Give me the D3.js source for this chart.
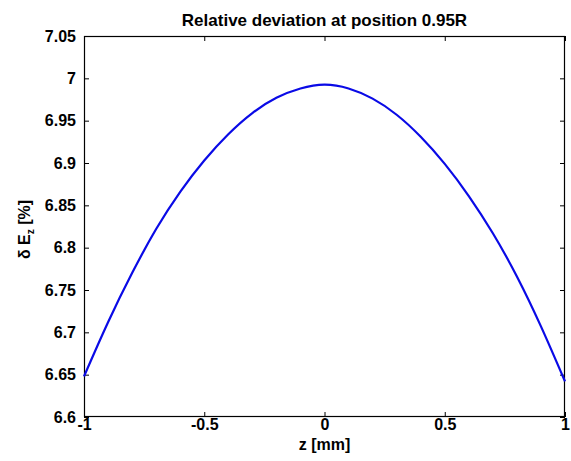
<!DOCTYPE html>
<html>
<head>
<meta charset="utf-8">
<script src="https://cdn.jsdelivr.net/npm/d3@7"></script>
<style>
  html, body { margin: 0; padding: 0; background: #fff; }
  svg { display: block; }
  text { font-family: "Liberation Sans", Arial, Helvetica, sans-serif; fill: #000; }
</style>
</head>
<body>
<svg id="chart" width="571" height="461"></svg>
<script>
// ---- data ----
const zValues = [-1, -0.9, -0.8, -0.7, -0.6, -0.5, -0.4, -0.3, -0.2, -0.1, 0,
                 0.1, 0.2, 0.3, 0.4, 0.5, 0.6, 0.7, 0.8, 0.9, 1];
const deltaEz = [6.648, 6.712, 6.770, 6.822, 6.866, 6.903, 6.934, 6.959, 6.977, 6.988, 6.9925,
                 6.988, 6.976, 6.957, 6.931, 6.899, 6.861, 6.817, 6.766, 6.707, 6.642];
const xTicks = [-1, -0.5, 0, 0.5, 1];
const xTickLabels = ["-1", "-0.5", "0", "0.5", "1"];
const yTicks = [6.6, 6.65, 6.7, 6.75, 6.8, 6.85, 6.9, 6.95, 7, 7.05];
const yTickLabels = ["6.6", "6.65", "6.7", "6.75", "6.8", "6.85", "6.9", "6.95", "7", "7.05"];
const titleText = "Relative deviation at position 0.95R";
const xLabelText = "z [mm]";

(function () {
// ---- layout ----
const svg = d3.select("#chart");
const mLeft = 84, mRight = 565, mTop = 36, mBottom = 417;
const x = d3.scaleLinear().domain([-1, 1]).range([mLeft, mRight]);
const y = d3.scaleLinear().domain([6.6, 7.05]).range([mBottom, mTop]);
const tickLen = 5;
const fontSize = 16;

// axes
const xAxisB = d3.axisBottom(x).tickValues(xTicks).tickSize(-tickLen).tickPadding(2)
  .tickFormat((d, i) => xTickLabels[i]);
const xAxisT = d3.axisTop(x).tickValues(xTicks).tickSize(-tickLen).tickFormat("");
const yAxisL = d3.axisLeft(y).tickValues(yTicks).tickSize(-tickLen).tickPadding(8)
  .tickFormat((d, i) => yTickLabels[i]);
const yAxisR = d3.axisRight(y).tickValues(yTicks).tickSize(-tickLen).tickFormat("");

function styleAxis(g) {
  g.select(".domain").remove();
  g.selectAll(".tick line").attr("stroke", "#000").attr("stroke-width", 1);
  g.selectAll(".tick text")
    .style("font-family", '"Liberation Sans", Arial, Helvetica, sans-serif')
    .style("font-size", fontSize + "px")
    .style("font-weight", "bold")
    .attr("fill", "#000");
}
svg.append("g").attr("transform", `translate(0,${mBottom})`).call(xAxisB).call(styleAxis);
svg.append("g").attr("transform", `translate(0,${mTop})`).call(xAxisT).call(styleAxis);
svg.append("g").attr("transform", `translate(${mLeft},0)`).call(yAxisL).call(styleAxis);
svg.append("g").attr("transform", `translate(${mRight},0)`).call(yAxisR).call(styleAxis);

// frame
svg.append("rect").attr("x", mLeft + 0.5).attr("y", mTop + 0.5)
  .attr("width", mRight - mLeft - 1).attr("height", mBottom - mTop - 1)
  .attr("fill", "none").attr("stroke", "#000").attr("stroke-width", 1.2);

// line
const line = d3.line()
  .x((d, i) => x(zValues[i]))
  .y(d => y(d))
  .curve(d3.curveNatural);
svg.append("path").datum(deltaEz)
  .attr("d", line)
  .attr("fill", "none")
  .attr("stroke", "#0a0ae6")
  .attr("stroke-width", 2.2);

// title
svg.append("text")
  .attr("x", (mLeft + mRight) / 2).attr("y", 26)
  .attr("text-anchor", "middle")
  .style("font-size", "17px").style("font-weight", "bold")
  .text(titleText);

// x label
svg.append("text")
  .attr("x", (mLeft + mRight) / 2).attr("y", 450)
  .attr("text-anchor", "middle")
  .style("font-size", fontSize + "px").style("font-weight", "bold")
  .text(xLabelText);

// y label: δ E_z [%]
const yl = svg.append("text")
  .attr("transform", `translate(30,${(mTop + mBottom) / 2 + 3}) rotate(-90)`)
  .attr("text-anchor", "middle")
  .style("font-size", fontSize + "px").style("font-weight", "bold");
yl.append("tspan").text("δ E");
yl.append("tspan").attr("dy", 4).style("font-size", "10px").text("z");
yl.append("tspan").attr("dy", -4).text(" [%]");
})();
</script>
</body>
</html>
